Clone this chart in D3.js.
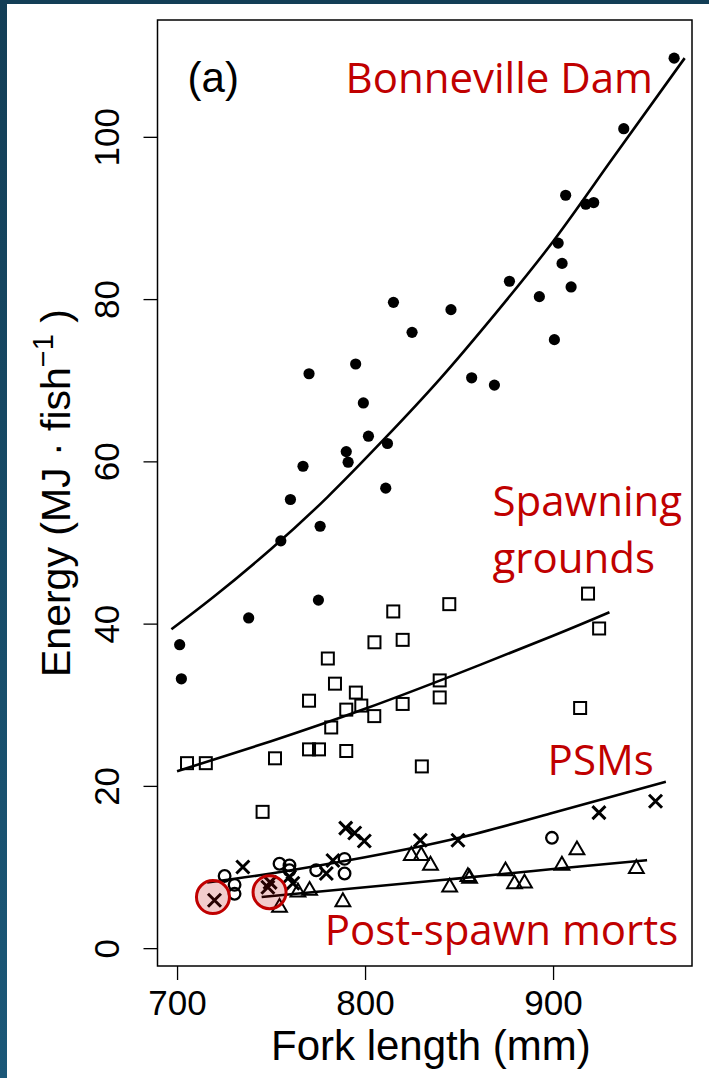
<!DOCTYPE html>
<html>
<head>
<meta charset="utf-8">
<script src="https://cdn.jsdelivr.net/npm/d3@7"></script>
<style>
  html, body { margin: 0; padding: 0; background: #fff; }
  svg { display: block; }
</style>
</head>
<body>
<svg width="709" height="1078"></svg>
<script>
// Points: [fork length (mm), energy (MJ/fish)]
const bonneville = [
  [701.4, 37.4], [702.3, 33.2], [738.1, 40.7], [775.2, 42.9], [755.2, 50.2],
  [776.1, 52.0], [760.3, 55.3], [767.0, 59.4], [791.0, 59.9], [790.0, 61.2],
  [811.0, 56.7], [811.9, 62.2], [801.8, 63.1], [799.1, 67.2], [770.2, 70.8],
  [795.0, 72.0], [856.7, 70.3], [868.8, 69.4], [825.0, 75.9], [845.7, 78.7],
  [815.1, 79.6], [876.8, 82.2], [892.7, 80.3], [900.7, 75.0], [909.6, 81.5],
  [904.8, 84.4], [902.7, 86.9], [906.7, 92.8], [917.4, 91.7], [921.6, 91.9],
  [937.6, 101.0], [964.4, 109.7]
];
const spawning = [
  [705.3, 22.8], [715.3, 22.8], [752.1, 23.4], [770.2, 24.5], [775.5, 24.5],
  [790.0, 24.3], [830.2, 22.4], [782.0, 27.2], [790.0, 29.4], [798.0, 29.9],
  [795.1, 31.5], [804.9, 28.6], [820.0, 30.1], [839.7, 30.9], [839.7, 33.0],
  [770.2, 30.5], [784.0, 32.6], [780.2, 35.7], [805.0, 37.7], [820.0, 38.0],
  [815.0, 41.5], [844.8, 42.4], [918.6, 43.7], [924.5, 39.4], [914.4, 29.6],
  [745.5, 16.8]
];
const psmCross = [
  [719.9, 5.9], [748.3, 7.5], [749.5, 8.1], [735.0, 10.0], [759.8, 8.8],
  [761.6, 8.0], [779.4, 9.2], [782.9, 10.8], [789.7, 14.8], [794.5, 14.2],
  [799.6, 13.2], [829.4, 13.3], [849.4, 13.3], [924.4, 16.7], [954.5, 18.1]
];
const psmCircle = [
  [725.3, 8.9], [730.6, 7.8], [730.6, 6.7], [754.5, 10.4], [759.8, 10.2],
  [759.8, 9.6], [774.0, 9.6], [789.1, 11.0], [789.1, 9.2], [899.4, 13.6]
];
const postSpawn = [
  [754.5, 5.0], [764.3, 6.9], [770.5, 7.1], [788.2, 5.7], [824.6, 11.4],
  [829.9, 11.4], [834.8, 10.2], [845.0, 7.5], [854.7, 8.8], [855.6, 8.6],
  [874.7, 9.5], [879.5, 7.9], [884.8, 8.0], [904.7, 10.2], [912.7, 12.1],
  [944.3, 9.8]
];
const highlighted = [[719.1, 6.3], [749.2, 6.9]];

// Fitted curves
const bonnevilleFit = [
  [697, 39.3], [720, 43.4], [750, 49.2], [780, 55.6], [810, 62.7],
  [840, 70.2], [870, 78.4], [900, 87.1], [930, 96.8], [970, 109.7]
];
const spawningFit = [[700, 21.8], [750, 25.5], [800, 29.5], [850, 33.9], [900, 38.5], [930, 41.4]];
const psmFit = [[716, 8.1], [750, 9.2], [800, 11.2], [850, 13.6], [900, 16.7], [960, 20.5]];
const postSpawnFit = [[745, 6.3], [800, 7.5], [850, 8.6], [900, 9.75], [950, 10.85]];

const xTicks = [700, 800, 900];
const yTicks = [0, 20, 40, 60, 80, 100];

const labels = [
  { text: "Bonneville Dam", x: 789.6, y: 105.4 },
  { text: "Spawning", x: 867.8, y: 53.3 },
  { text: "grounds", x: 867.8, y: 46.3 },
  { text: "PSMs", x: 897.1, y: 21.4 },
  { text: "Post-spawn morts", x: 778.5, y: 0.4 }
];

const width = 709, height = 1078;
const box = { left: 157.5, right: 692, top: 20, bottom: 966 };
const axisFont = "'Liberation Sans', Arial, sans-serif";

const svg = d3.select("svg");

// slide background
const defs = svg.append("defs");
const grad = defs.append("linearGradient").attr("id", "bg").attr("x1", 0).attr("y1", 0).attr("x2", 0).attr("y2", 1);
grad.append("stop").attr("offset", "0%").attr("stop-color", "#133e56");
grad.append("stop").attr("offset", "100%").attr("stop-color", "#1b5878");
svg.append("rect").attr("width", width).attr("height", height).attr("fill", "url(#bg)");
svg.append("rect").attr("x", 7).attr("y", 4).attr("width", width - 7).attr("height", height - 4).attr("fill", "#fff");

const x = d3.scaleLinear().domain([689.6, 973.9]).range([box.left, box.right]);
const y = d3.scaleLinear().domain([-2.2, 114.4]).range([box.bottom, box.top]);

// axes
const xAxis = svg.append("g")
  .attr("transform", `translate(0,${box.bottom})`)
  .call(d3.axisBottom(x).tickValues(xTicks).tickSize(14).tickSizeOuter(0));
xAxis.select(".domain").remove();
xAxis.selectAll("line").attr("stroke", "#000").attr("stroke-width", 1.3);
xAxis.selectAll("text")
  .attr("font-family", axisFont)
  .attr("font-size", 35).attr("fill", "#000")
  .attr("dy", null).attr("y", 48.5);

const yAxis = svg.append("g")
  .attr("transform", `translate(${box.left},0)`)
  .call(d3.axisLeft(y).tickValues(yTicks).tickSize(14).tickSizeOuter(0));
yAxis.select(".domain").remove();
yAxis.selectAll("line").attr("stroke", "#000").attr("stroke-width", 1.3);
yAxis.selectAll("text")
  .attr("font-family", axisFont)
  .attr("font-size", 35).attr("fill", "#000")
  .attr("x", null).attr("dy", null)
  .attr("text-anchor", "middle")
  .attr("transform", "translate(-39,0) rotate(-90)");

// frame
svg.append("rect")
  .attr("x", box.left).attr("y", box.top)
  .attr("width", box.right - box.left).attr("height", box.bottom - box.top)
  .attr("fill", "none").attr("stroke", "#000").attr("stroke-width", 1.5);

// axis titles
svg.append("text")
  .attr("x", x(835)).attr("y", 1060)
  .attr("text-anchor", "middle")
  .attr("font-family", axisFont)
  .attr("font-size", 42)
  .text("Fork length (mm)");

const yTitle = svg.append("text")
  .attr("transform", `translate(70,${(box.top + box.bottom) / 2}) rotate(-90)`)
  .attr("text-anchor", "middle")
  .attr("font-family", axisFont)
  .attr("font-size", 41);
yTitle.append("tspan").text("Energy (MJ \u00b7 fish");
yTitle.append("tspan").attr("font-size", 29).attr("dy", -17).text("\u22121");
yTitle.append("tspan").attr("dy", 17).text(" )");

// fitted curves
const line = d3.line().x(d => x(d[0])).y(d => y(d[1])).curve(d3.curveNatural);
[bonnevilleFit, spawningFit, psmFit, postSpawnFit].forEach(fit => {
  svg.append("path")
    .datum(fit)
    .attr("fill", "none")
    .attr("stroke", "#000")
    .attr("stroke-width", 2.6)
    .attr("d", line);
});

// markers
svg.append("g").selectAll("circle").data(bonneville).join("circle")
  .attr("cx", d => x(d[0])).attr("cy", d => y(d[1])).attr("r", 5.6).attr("fill", "#000");

svg.append("g").selectAll("rect").data(spawning).join("rect")
  .attr("x", d => x(d[0]) - 6).attr("y", d => y(d[1]) - 6)
  .attr("width", 12).attr("height", 12)
  .attr("fill", "none").attr("stroke", "#000").attr("stroke-width", 2);

svg.append("g").selectAll("circle").data(psmCircle).join("circle")
  .attr("cx", d => x(d[0])).attr("cy", d => y(d[1])).attr("r", 5.8)
  .attr("fill", "none").attr("stroke", "#000").attr("stroke-width", 2.3);

const tri = d3.symbol().type(d3.symbolTriangle).size(95);
svg.append("g").selectAll("path").data(postSpawn).join("path")
  .attr("transform", d => `translate(${x(d[0])},${y(d[1])})`)
  .attr("d", tri)
  .attr("fill", "none").attr("stroke", "#000").attr("stroke-width", 2);

const crossPath = "M-6.5,-6.5L6.5,6.5M-6.5,6.5L6.5,-6.5";
svg.append("g").selectAll("path").data(psmCross).join("path")
  .attr("transform", d => `translate(${x(d[0])},${y(d[1])})`)
  .attr("d", crossPath)
  .attr("fill", "none").attr("stroke", "#000").attr("stroke-width", 3);

// highlighted fish
svg.append("g").selectAll("circle").data(highlighted).join("circle")
  .attr("cx", d => x(d[0])).attr("cy", d => y(d[1])).attr("r", 16.5)
  .attr("fill", "rgba(192,0,0,0.2)")
  .attr("stroke", "#c00000").attr("stroke-width", 3);

// panel label and group labels
svg.append("text")
  .attr("x", x(705.6)).attr("y", y(105.5))
  .attr("font-family", axisFont)
  .attr("font-size", 42)
  .text("(a)");

svg.append("g").selectAll("text").data(labels).join("text")
  .attr("x", d => x(d.x)).attr("y", d => y(d.y))
  .attr("font-family", "'Open Sans', 'Noto Sans', sans-serif")
  .attr("font-size", 42)
  .attr("fill", "#c00000")
  .text(d => d.text);
</script>
</body>
</html>
